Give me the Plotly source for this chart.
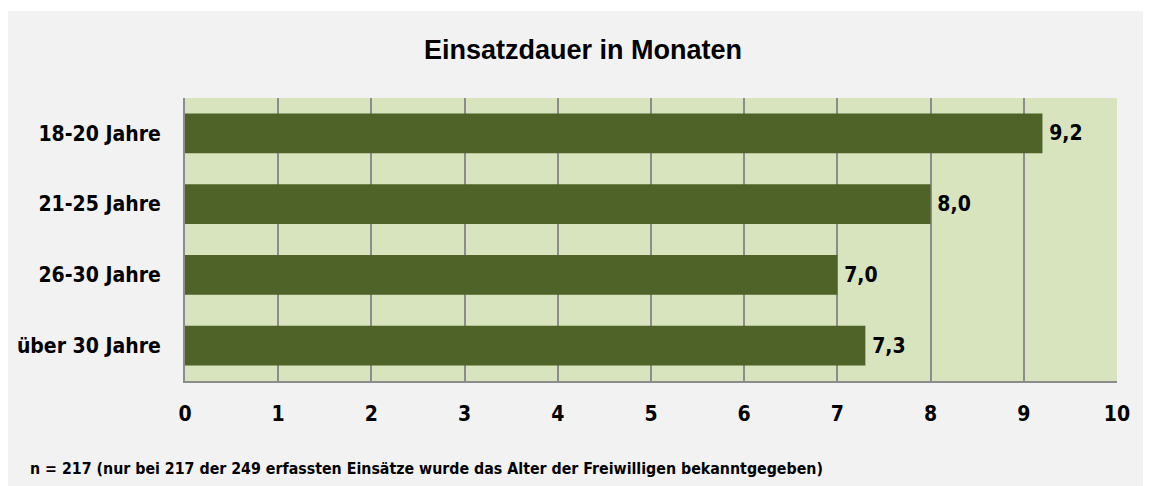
import plotly.graph_objects as go

categories = ["18-20 Jahre", "21-25 Jahre", "26-30 Jahre", "über 30 Jahre"]
values = [9.2, 8.0, 7.0, 7.3]
title_text = "Einsatzdauer in Monaten"
footnote = "n = 217 (nur bei 217 der 249 erfassten Einsätze wurde das Alter der Freiwilligen bekanntgegeben)"
x_ticks = list(range(0, 11))

NARROW = "DejaVu Sans Condensed, Liberation Sans Narrow, Arial Narrow, sans-serif"

# page has an 8px body margin; figure coordinates = page coordinates - 8
W, H = 1143, 478
L, R, T, B = 177, 34, 90, 105
PW, PH = W - L - R, H - T - B

fig = go.Figure()
fig.add_trace(go.Bar(
    y=categories,
    x=values,
    orientation="h",
    marker=dict(color="#4f6228", line=dict(width=0)),
    text=["\u2009" + f"{v:.1f}".replace(".", ",") for v in values],
    textposition="outside",
    textfont=dict(family=NARROW, size=21, color="#000000", weight="bold"),
    cliponaxis=False,
    hoverinfo="skip",
))

fig.update_layout(
    width=W, height=H,
    margin=dict(l=L, r=R, t=T, b=B, autoexpand=False),
    paper_bgcolor="#f2f2f2",
    plot_bgcolor="#d7e4bd",
    bargap=0.435,
    showlegend=False,
    separators=",.",
    title=dict(text=title_text, xref="paper", x=(575 - L) / PW, xanchor="center",
               yref="container", y=1 - 42 / H, yanchor="middle",
               font=dict(family="Liberation Sans, Arial, sans-serif", size=27, color="#000000", weight="bold")),
    xaxis=dict(range=[0, 10], tickvals=x_ticks, ticktext=[str(t) for t in x_ticks],
               showgrid=True, gridcolor="#8c8c8c", gridwidth=1.5,
               showline=True, linecolor="#8c8c8c", linewidth=2,
               ticks="", ticklabelstandoff=13, automargin=False,
               tickfont=dict(family=NARROW, size=21, color="#000000", weight="bold"),
               zeroline=False, fixedrange=True),
    yaxis=dict(categoryorder="array", categoryarray=categories[::-1],
               showline=True, linecolor="#8c8c8c", linewidth=2,
               ticks="", ticklabelstandoff=18, automargin=False,
               tickfont=dict(family=NARROW, size=21, color="#000000", weight="bold"),
               fixedrange=True),
    annotations=[dict(text=footnote, xref="paper", yref="paper",
                      x=-(L - 20) / PW, xanchor="left",
                      y=-(460 - (H - B)) / PH, yanchor="middle", showarrow=False,
                      font=dict(family=NARROW, size=15.8, color="#000000", weight="bold"))],
)
# thin white strip at the top like the reference
fig.add_shape(type="rect", xref="paper", yref="paper",
              x0=-L / PW, x1=1 + R / PW,
              y0=1 + (T - 3) / PH, y1=1 + T / PH,
              line=dict(width=0), fillcolor="#ffffff", layer="below")

fig.write_html("out.html")
